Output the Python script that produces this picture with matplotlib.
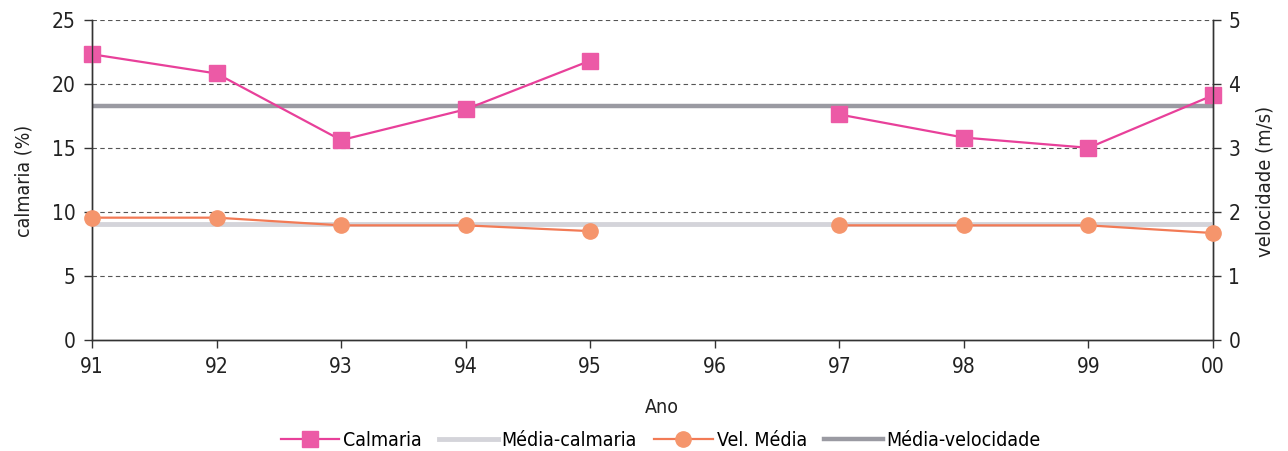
import numpy as np
from matplotlib import pyplot as plt
from matplotlib.lines import Line2D

plt.rcParams["font.family"] = ["DejaVu Sans"]
plt.rcParams["font.stretch"] = "condensed"

anos = ["91", "92", "93", "94", "95", "96", "97", "98", "99", "00"]
calmaria = [22.3, 20.8, 15.6, 18.0, 21.8, np.nan, 17.6, 15.8, 15.0, 19.1]
vel_media = [1.91, 1.91, 1.79, 1.79, 1.70, np.nan, 1.79, 1.79, 1.79, 1.67]
media_calmaria = 1.81     # light grey line as drawn (read on right axis)
media_velocidade = 18.3   # dark grey line as drawn (read on left axis)

pink = "#e8409a"
orange = "#f5956c"
light_grey = "#d4d4da"
dark_grey = "#9a9aa2"
tick_col = "#222222"

fig = plt.figure(figsize=(12.88, 4.51), dpi=100)
ax = fig.add_axes([0.0714, 0.246, 0.8704, 0.7104])
ax2 = ax.twinx()

x = np.arange(len(anos))

ax.set_xlim(0, len(anos) - 1)
ax.set_ylim(0, 25)
ax2.set_ylim(0, 5)

for v in [5, 10, 15, 20, 25]:
    ax.axhline(v, color="#555555", linestyle=(0, (4, 3)), linewidth=0.8, zorder=1)

ax.plot(x, [media_velocidade] * len(x), color=dark_grey, linewidth=3.2, zorder=2,
        solid_capstyle="butt")
ax.plot(x, calmaria, color=pink, linewidth=1.6, marker="s", markersize=11,
        markerfacecolor="#ec5aa6", markeredgecolor="#ec5aa6", zorder=4, clip_on=False)

ax2.plot(x, [media_calmaria] * len(x), color=light_grey, linewidth=3.5, zorder=2,
         solid_capstyle="butt")
ax2.plot(x, vel_media, color="#f27a55", linewidth=1.6, marker="o", markersize=11,
         markerfacecolor=orange, markeredgecolor=orange, zorder=4, clip_on=False)

ax.set_xticks(x)
ax.set_xticklabels(anos)
ax.set_yticks([0, 5, 10, 15, 20, 25])
ax2.set_yticks([0, 1, 2, 3, 4, 5])

for a in (ax, ax2):
    a.spines["top"].set_visible(False)
    for s in ("left", "right", "bottom"):
        a.spines[s].set_color("#333333")
        a.spines[s].set_linewidth(1.0)
    a.tick_params(axis="both", direction="out", length=6, width=1.0,
                  colors="#333333", labelcolor=tick_col, labelsize=15)
ax.tick_params(axis="x", pad=6)
ax.tick_params(axis="y", pad=6)
ax2.tick_params(axis="y", pad=5)

fig.text(0.019, 0.598, "calmaria (%)", rotation=90, ha="center", va="center",
         fontsize=14, color=tick_col)
fig.text(0.982, 0.598, "velocidade (m/s)", rotation=90, ha="center", va="center",
         fontsize=14.5, color=tick_col)
fig.text(0.5135, 0.097, "Ano", ha="center", va="center", fontsize=14, color=tick_col)

handles = [
    Line2D([], [], color=pink, linewidth=1.6, marker="s", markersize=11,
           markerfacecolor="#ec5aa6", markeredgecolor="#ec5aa6"),
    Line2D([], [], color=light_grey, linewidth=3.5),
    Line2D([], [], color="#f27a55", linewidth=1.6, marker="o", markersize=11,
           markerfacecolor=orange, markeredgecolor=orange),
    Line2D([], [], color=dark_grey, linewidth=3.2),
]
labels = ["Calmaria", "Média-calmaria", "Vel. Média", "Média-velocidade"]
fig.legend(handles, labels, loc="center", bbox_to_anchor=(0.513, 0.024), ncol=4,
           frameon=False, fontsize=14, handlelength=3.0, handletextpad=0.2,
           columnspacing=0.9)

plt.savefig("out.png", dpi=100)
